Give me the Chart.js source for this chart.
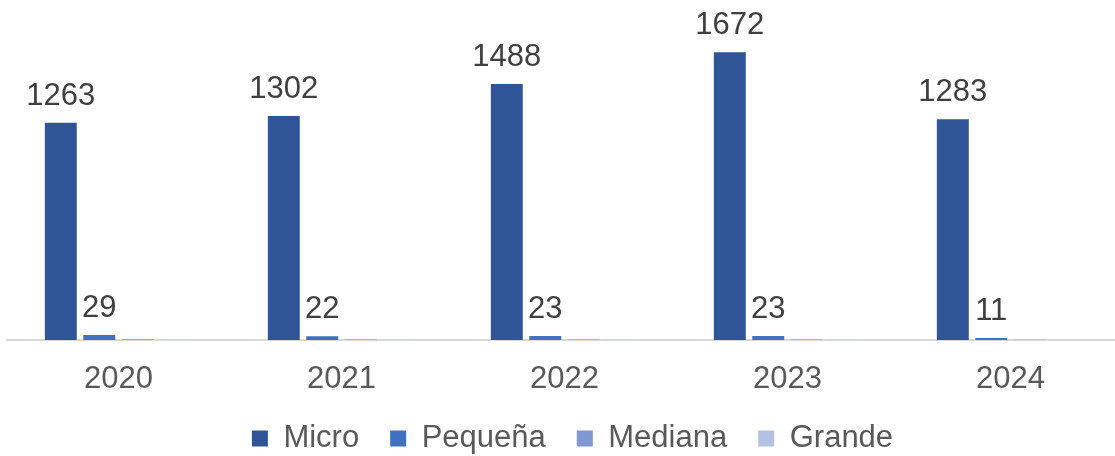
<!DOCTYPE html>
<html>
<head>
<meta charset="utf-8">
<script src="https://cdn.jsdelivr.net/npm/chart.js@4.4.1/dist/chart.umd.min.js"></script>
<style>
  html, body { margin: 0; padding: 0; background: #ffffff; overflow: hidden; }
  #wrap { position: relative; width: 1135px; height: 456px; }
</style>
</head>
<body>
<div id="wrap"><canvas id="c"></canvas></div>
<script>
const categories = ['2020', '2021', '2022', '2023', '2024'];
const micro   = [1263, 1302, 1488, 1672, 1283];
const pequena = [29, 22, 23, 23, 11];
const mediana = [4, 3, 3, 3, 1];
const grande  = [1, 1, 1, 1, 0];
const seriesNames = ['Micro', 'Pequeña', 'Mediana', 'Grande'];
const labelledSeries = [0, 1];

const FONT = "'Liberation Sans', Arial, sans-serif";

const valueLabels = {
  id: 'valueLabels',
  afterDatasetsDraw(chart) {
    const ctx = chart.ctx;
    ctx.save();
    ctx.font = '31px ' + FONT;
    ctx.fillStyle = '#404040';
    ctx.textAlign = 'center';
    ctx.textBaseline = 'alphabetic';
    labelledSeries.forEach(di => {
      const meta = chart.getDatasetMeta(di);
      meta.data.forEach((bar, i) => {
        const v = chart.data.datasets[di].data[i];
        ctx.fillText(String(v), bar.x, bar.y - 18);
      });
    });
    ctx.restore();
  }
};

const legendTune = {
  id: 'legendTune',
  beforeInit(chart) {
    const lg = chart.legend;
    if (!lg) return;
    const orig = lg.fit;
    lg.fit = function () {
      orig.call(this);
      this.height = 64;
    };
  },
  afterLayout(chart) {
    const lg = chart.legend;
    if (!lg) return;
    lg.left += 8;
    lg.right += 8;
  }
};

new Chart(document.getElementById('c'), {
  type: 'bar',
  data: {
    labels: categories,
    datasets: [
      { label: seriesNames[0], data: micro,   backgroundColor: '#2F5597' },
      { label: seriesNames[1], data: pequena, backgroundColor: '#4070C0' },
      { label: seriesNames[2], data: mediana, backgroundColor: '#7F98D3' },
      { label: seriesNames[3], data: grande,  backgroundColor: '#B4C1E2' }
    ]
  },
  options: {
    responsive: true,
    maintainAspectRatio: false,
    animation: false,
    datasets: { bar: { categoryPercentage: 0.69, barPercentage: 0.83 } },
    layout: { padding: { left: 7, right: 13, top: 13, bottom: 0 } },
    scales: {
      x: {
        grid: { display: false },
        border: { display: true, color: '#D9D9D9', width: 2 },
        ticks: { color: '#595959', font: { family: FONT, size: 31 }, padding: 13 },
        afterFit(scale) { scale.height = 52; }
      },
      y: {
        display: false,
        min: 0,
        max: 1900
      }
    },
    plugins: {
      legend: {
        position: 'bottom',
        labels: {
          color: '#595959',
          font: { family: FONT, size: 31 },
          boxWidth: 16,
          boxHeight: 16,
          padding: 31
        }
      },
      tooltip: { enabled: false }
    }
  },
  plugins: [valueLabels, legendTune]
});
</script>
</body>
</html>
